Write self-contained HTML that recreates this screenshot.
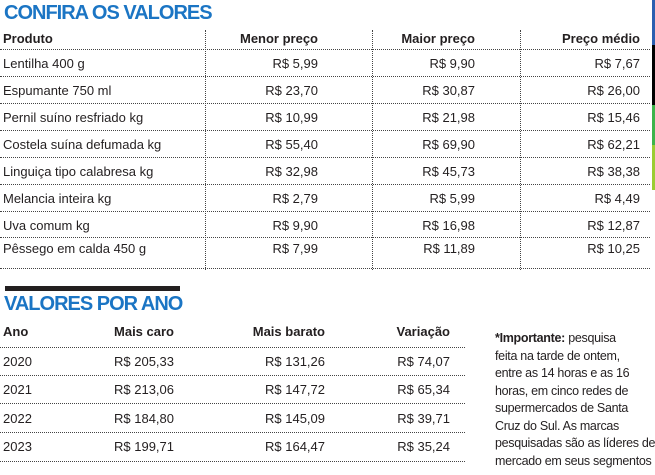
<!DOCTYPE html>
<html><head><meta charset="utf-8"><style>
body{margin:0;width:655px;height:475px;background:#fff;position:relative;overflow:hidden;font-family:"Liberation Sans",sans-serif;color:#231f20}
.a{position:absolute;white-space:nowrap;font-size:13px;line-height:15px}
.b{font-weight:bold}
.r{text-align:right}
.t{position:absolute;color:#1b75c4;font-weight:bold;font-size:20px;letter-spacing:-1px;line-height:22px}
.h{position:absolute;height:0;border-top:1px dotted #444}
.v{position:absolute;width:0;border-left:1px dotted #444}
</style></head><body>
<div class="t" style="left:4px;top:2px">CONFIRA OS VALORES</div>
<div style="position:absolute;left:652px;top:0;width:3px;height:45px;background:#2b5fb0"></div>
<div style="position:absolute;left:652px;top:45px;width:3px;height:60px;background:#000"></div>
<div style="position:absolute;left:652px;top:105px;width:3px;height:40px;background:#3cb44a"></div>
<div style="position:absolute;left:652px;top:145px;width:3px;height:45px;background:#9acd32"></div>

<div class="v" style="left:205px;top:30px;height:240px"></div>
<div class="v" style="left:372px;top:30px;height:240px"></div>
<div class="v" style="left:520px;top:30px;height:240px"></div>

<div class="a b" style="left:3px;top:31px">Produto</div>
<div class="a b r" style="right:337px;top:31px">Menor preço</div>
<div class="a b r" style="right:180px;top:31px">Maior preço</div>
<div class="a b r" style="right:15px;top:31px">Preço médio</div>

<div class="h" style="left:0;width:650px;top:49px"></div>
<div class="h" style="left:0;width:650px;top:76px"></div>
<div class="h" style="left:0;width:650px;top:103px"></div>
<div class="h" style="left:0;width:650px;top:130px"></div>
<div class="h" style="left:0;width:650px;top:157px"></div>
<div class="h" style="left:0;width:650px;top:184px"></div>
<div class="h" style="left:0;width:650px;top:211px"></div>
<div class="h" style="left:0;width:650px;top:237px"></div>
<div class="h" style="left:0;width:650px;top:268px"></div>

<div class="a" style="left:3px;top:56px">Lentilha 400 g</div><div class="a r" style="right:337px;top:56px">R$ 5,99</div><div class="a r" style="right:180px;top:56px">R$ 9,90</div><div class="a r" style="right:15px;top:56px">R$ 7,67</div>
<div class="a" style="left:3px;top:83px">Espumante 750 ml</div><div class="a r" style="right:337px;top:83px">R$ 23,70</div><div class="a r" style="right:180px;top:83px">R$ 30,87</div><div class="a r" style="right:15px;top:83px">R$ 26,00</div>
<div class="a" style="left:3px;top:110px">Pernil suíno resfriado kg</div><div class="a r" style="right:337px;top:110px">R$ 10,99</div><div class="a r" style="right:180px;top:110px">R$ 21,98</div><div class="a r" style="right:15px;top:110px">R$ 15,46</div>
<div class="a" style="left:3px;top:137px">Costela suína defumada kg</div><div class="a r" style="right:337px;top:137px">R$ 55,40</div><div class="a r" style="right:180px;top:137px">R$ 69,90</div><div class="a r" style="right:15px;top:137px">R$ 62,21</div>
<div class="a" style="left:3px;top:164px">Linguiça tipo calabresa kg</div><div class="a r" style="right:337px;top:164px">R$ 32,98</div><div class="a r" style="right:180px;top:164px">R$ 45,73</div><div class="a r" style="right:15px;top:164px">R$ 38,38</div>
<div class="a" style="left:3px;top:191px">Melancia inteira kg</div><div class="a r" style="right:337px;top:191px">R$ 2,79</div><div class="a r" style="right:180px;top:191px">R$ 5,99</div><div class="a r" style="right:15px;top:191px">R$ 4,49</div>
<div class="a" style="left:3px;top:218px">Uva comum kg</div><div class="a r" style="right:337px;top:218px">R$ 9,90</div><div class="a r" style="right:180px;top:218px">R$ 16,98</div><div class="a r" style="right:15px;top:218px">R$ 12,87</div>
<div class="a" style="left:3px;top:241px">Pêssego em calda 450 g</div><div class="a r" style="right:337px;top:241px">R$ 7,99</div><div class="a r" style="right:180px;top:241px">R$ 11,89</div><div class="a r" style="right:15px;top:241px">R$ 10,25</div>

<div style="position:absolute;left:5px;top:286px;width:175px;height:5px;background:#231f20"></div>
<div class="t" style="left:4px;top:293px">VALORES POR ANO</div>

<div class="a b" style="left:3px;top:324px">Ano</div>
<div class="a b r" style="right:481px;top:324px">Mais caro</div>
<div class="a b r" style="right:330px;top:324px">Mais barato</div>
<div class="a b r" style="right:205px;top:324px">Variação</div>

<div class="h" style="left:0;width:465px;top:347px"></div>
<div class="h" style="left:0;width:465px;top:375px"></div>
<div class="h" style="left:0;width:465px;top:403px"></div>
<div class="h" style="left:0;width:465px;top:432px"></div>
<div class="h" style="left:0;width:465px;top:461px"></div>

<div class="a" style="left:3px;top:354px">2020</div><div class="a r" style="right:481px;top:354px">R$ 205,33</div><div class="a r" style="right:330px;top:354px">R$ 131,26</div><div class="a r" style="right:205px;top:354px">R$ 74,07</div>
<div class="a" style="left:3px;top:382px">2021</div><div class="a r" style="right:481px;top:382px">R$ 213,06</div><div class="a r" style="right:330px;top:382px">R$ 147,72</div><div class="a r" style="right:205px;top:382px">R$ 65,34</div>
<div class="a" style="left:3px;top:411px">2022</div><div class="a r" style="right:481px;top:411px">R$ 184,80</div><div class="a r" style="right:330px;top:411px">R$ 145,09</div><div class="a r" style="right:205px;top:411px">R$ 39,71</div>
<div class="a" style="left:3px;top:439px">2023</div><div class="a r" style="right:481px;top:439px">R$ 199,71</div><div class="a r" style="right:330px;top:439px">R$ 164,47</div><div class="a r" style="right:205px;top:439px">R$ 35,24</div>

<div style="position:absolute;left:495px;top:330px;width:165px;font-size:12.5px;line-height:17.5px;letter-spacing:-0.3px;white-space:nowrap"><b>*Importante:</b> pesquisa<br>feita na tarde de ontem,<br>entre as 14 horas e as 16<br>horas, em cinco redes de<br>supermercados de Santa<br>Cruz do Sul. As marcas<br>pesquisadas são as líderes de<br>mercado em seus segmentos</div>
</body></html>
